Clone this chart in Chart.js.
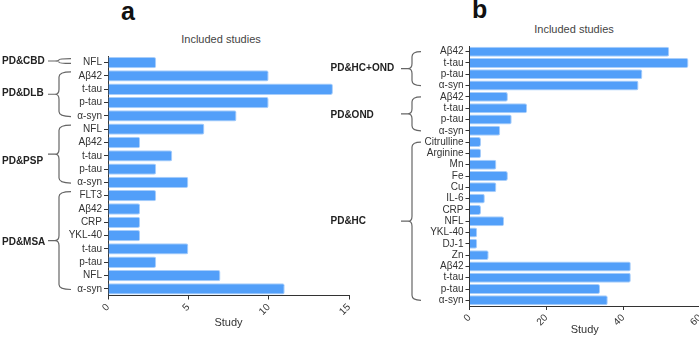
<!DOCTYPE html>
<html>
<head>
<meta charset="utf-8">
<script src="https://cdn.jsdelivr.net/npm/chart.js@4.4.0/dist/chart.umd.min.js"></script>
<style>
  body { margin: 0; width: 699px; height: 337px; overflow: hidden; background: #fff; position: relative;
         font-family: 'Liberation Sans', Arial, sans-serif; }
  .panel { position: absolute; font-family: 'Liberation Sans Narrow', 'Liberation Sans', Arial, sans-serif;
           font-weight: bold; font-size: 25px; line-height: 25px; color: #111; }
  .heading { position: absolute; font-size: 11px; line-height: 13px; color: #444; transform: translateX(-50%); white-space: nowrap; }
  canvas { position: absolute; top: 0; }
</style>
</head>
<body>
<div class="panel" style="left:121px; top:-1px">a</div>
<div class="panel" style="left:472px; top:-3px">b</div>
<div class="heading" style="left:221px; top:33px">Included studies</div>
<div class="heading" style="left:574px; top:23px">Included studies</div>
<canvas id="chartA" width="352" height="337" style="left:0px"></canvas>
<canvas id="chartB" width="370" height="337" style="left:330px"></canvas>
<script>
'use strict';

// panel a - PD vs other parkinsonism
const labelsA = ['NFL', 'Aβ42', 't-tau', 'p-tau', 'α-syn', 'NFL', 'Aβ42', 't-tau', 'p-tau', 'α-syn',
  'FLT3', 'Aβ42', 'CRP', 'YKL-40', 't-tau', 'p-tau', 'NFL', 'α-syn'];
const studiesA = [3, 10, 14, 10, 8, 6, 2, 4, 3, 5, 3, 2, 2, 2, 5, 3, 7, 11];
const groupsA = ['PD&CBD', 'PD&DLB', 'PD&PSP', 'PD&MSA'];
const groupSizesA = [1, 4, 5, 8];
const ticksA = [0, 5, 10, 15];

// panel b - PD vs controls
const labelsB = ['Aβ42', 't-tau', 'p-tau', 'α-syn', 'Aβ42', 't-tau', 'p-tau', 'α-syn',
  'Citrulline', 'Arginine', 'Mn', 'Fe', 'Cu', 'IL-6', 'CRP', 'NFL', 'YKL-40', 'DJ-1', 'Zn',
  'Aβ42', 't-tau', 'p-tau', 'α-syn'];
const studiesB = [52, 57, 45, 44, 10, 15, 11, 8, 3, 3, 7, 10, 7, 4, 3, 9, 2, 2, 5, 42, 42, 34, 36];
const groupsB = ['PD&HC+OND', 'PD&OND', 'PD&HC'];
const groupSizesB = [4, 4, 15];
const ticksB = [0, 20, 40, 60];

const barColor = '#529ff9';
const axisColor = '#333';
const narrowFont = "'Liberation Sans Narrow', 'Liberation Sans', Arial, sans-serif";
const plainFont = "'Liberation Sans', Arial, sans-serif";

// curly braces + group names on the left of the y axis
const bracePlugin = {
  id: 'braces',
  afterDraw(chart, args, opts) {
    const ctx = chart.ctx;
    const yScale = chart.scales.y;
    const left = chart.chartArea.left;
    const step = yScale.getPixelForValue(1) - yScale.getPixelForValue(0);
    let first = 0;
    ctx.save();
    ctx.strokeStyle = '#666';
    ctx.lineWidth = 1.2;
    ctx.fillStyle = '#222';
    ctx.font = 'bold 10px ' + plainFont;
    ctx.textBaseline = 'middle';
    opts.names.forEach((name, i) => {
      const last = first + opts.sizes[i] - 1;
      const top = yScale.getPixelForValue(first) + opts.topOff * step;
      const bot = yScale.getPixelForValue(last) + opts.botOff * step;
      const mid = (top + bot) / 2;
      const xEnd = left + opts.xEnd;
      const xSpine = left + opts.xSpine;
      const xTip = left + opts.xTip;
      const r = Math.min(5, (bot - top) / 4);
      ctx.beginPath();
      ctx.moveTo(xEnd, top);
      ctx.quadraticCurveTo(xSpine, top, xSpine, top + r);
      ctx.lineTo(xSpine, mid - r);
      ctx.quadraticCurveTo(xSpine, mid, xTip, mid);
      ctx.quadraticCurveTo(xSpine, mid, xSpine, mid + r);
      ctx.lineTo(xSpine, bot - r);
      ctx.quadraticCurveTo(xSpine, bot, xEnd, bot);
      ctx.moveTo(xTip, mid);
      ctx.lineTo(left + opts.xLine, mid);
      ctx.stroke();
      ctx.fillText(name, opts.labelX, mid + opts.labelShift[i]);
      first = last + 1;
    });
    ctx.restore();
  }
};

function drawPanel(canvasId, labels, values, ticks, box) {
  return new Chart(document.getElementById(canvasId), {
    type: 'bar',
    data: {
      labels: labels,
      datasets: [{
        data: values,
        backgroundColor: barColor,
        borderColor: '#a9cefa',
        borderWidth: 1,
        borderRadius: 2,
        borderSkipped: 'start',
        barPercentage: box.bar,
        categoryPercentage: 1
      }]
    },
    options: {
      indexAxis: 'y',
      responsive: false,
      animation: false,
      layout: { padding: { top: box.top, right: box.right, left: 0, bottom: 0 } },
      plugins: {
        legend: { display: false },
        tooltip: { enabled: false },
        braces: box.braces
      },
      scales: {
        x: {
          min: ticks[0],
          max: ticks[ticks.length - 1],
          ticks: {
            stepSize: ticks[1] - ticks[0],
            minRotation: 45,
            maxRotation: 45,
            padding: 2,
            color: axisColor,
            font: { family: plainFont, size: 10 }
          },
          grid: { drawOnChartArea: false, tickLength: 4, color: axisColor },
          border: { color: axisColor },
          title: {
            display: true,
            text: 'Study',
            color: axisColor,
            font: { family: plainFont, size: 11 },
            padding: { top: 0, bottom: box.titlePad }
          },
          afterFit(scale) {
            scale.height = box.xHeight;
            scale.paddingLeft = 0;
            scale.paddingRight = 0;
          }
        },
        y: {
          ticks: {
            autoSkip: false,
            padding: 2,
            color: axisColor,
            font: { family: narrowFont, size: 10 }
          },
          grid: { drawOnChartArea: false, offset: false, tickLength: 4, color: axisColor },
          border: { color: axisColor },
          afterFit(scale) {
            scale.width = box.yWidth;
            scale.paddingTop = 0;
            scale.paddingBottom = 0;
          }
        }
      }
    },
    plugins: [bracePlugin]
  });
}

let chartA = drawPanel('chartA', labelsA, studiesA, ticksA, {
  bar: 0.85, top: 56, right: 3, xHeight: 41.5, yWidth: 108, titlePad: 7,
  braces: { names: groupsA, sizes: groupSizesA, topOff: -0.3, botOff: 0.05,
    xEnd: -37, xSpine: -49, xTip: -53, xLine: -60, labelX: 2, labelShift: [0, -1, 7, 2] }
});

let chartB = drawPanel('chartB', labelsB, studiesB, ticksB, {
  bar: 0.88, top: 46, right: 0, xHeight: 31, yWidth: 139.5, titlePad: 0,
  braces: { names: groupsB, sizes: groupSizesB, topOff: 0, botOff: 0,
    xEnd: -48.5, xSpine: -57.5, xTip: -61.5, xLine: -68.5, labelX: 0.5, labelShift: [0, 1, 0] }
});
</script>
</body>
</html>
